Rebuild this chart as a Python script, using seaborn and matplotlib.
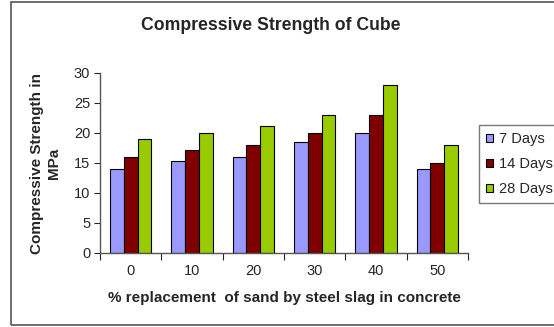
import numpy as np
import pandas as pd
import matplotlib
matplotlib.use("Agg")
import matplotlib.pyplot as plt
import seaborn as sns
from matplotlib.patches import Rectangle

replacement = ["0", "10", "20", "30", "40", "50"]
days_7 = [14, 15.4, 16, 18.5, 20, 14]
days_14 = [16, 17.2, 18, 20, 23, 15]
days_28 = [19, 20, 21.1, 23, 28, 18]
series = ["7 Days", "14 Days", "28 Days"]
colors = ["#9999FF", "#800000", "#99CC00"]

df = pd.DataFrame({
    "repl": replacement * 3,
    "value": days_7 + days_14 + days_28,
    "series": [s for s in series for _ in replacement],
})

sns.set_style("white")
plt.rcParams["font.family"] = ["Liberation Sans", "DejaVu Sans"]

fig = plt.figure(figsize=(5.54, 3.27), dpi=100)
ax = fig.add_axes([100 / 554, 1 - 253 / 327, 368 / 554, 180 / 327])

sns.barplot(data=df, x="repl", y="value", hue="series", palette=colors,
            width=0.67, edgecolor="black", linewidth=0.8, saturation=1,
            ax=ax)

ax.set_ylim(0, 30)
ax.set_xlim(-0.5, 5.5)
ax.set_yticks(range(0, 31, 5))
ax.tick_params(axis="y", labelsize=10.5, length=4, width=0.8, direction="out", left=True, pad=3)
ax.tick_params(axis="x", labelsize=10.5, length=0, pad=8)
ax.set_xticks(np.arange(-0.5, 6, 1), minor=True)
ax.tick_params(axis="x", which="minor", length=5, width=0.8, direction="out", bottom=True)
for side in ["top", "right"]:
    ax.spines[side].set_visible(False)
for side in ["left", "bottom"]:
    ax.spines[side].set_color("#555555")
    ax.spines[side].set_linewidth(1)

ax.set_xlabel("% replacement  of sand by steel slag in concrete",
              fontsize=11, fontweight="bold", labelpad=9)
ax.set_ylabel("Compressive Strength in\nMPa", fontsize=11,
              fontweight="bold", labelpad=9, linespacing=1.3)

fig.text(271 / 554, 1 - 25 / 327, "Compressive Strength of Cube", ha="center",
         va="center", fontsize=12.7, fontweight="bold")

leg = ax.legend(loc="upper left", bbox_to_anchor=(479 / 554, 1 - 125 / 327),
                bbox_transform=fig.transFigure, fontsize=10.5, frameon=True,
                fancybox=False, edgecolor="#555555", handlelength=0.45,
                handleheight=0.45, handletextpad=0.4, borderpad=0.5,
                labelspacing=0.75, borderaxespad=0)
leg.get_frame().set_linewidth(1)

fig.patches.append(Rectangle((11 / 554, 2 / 327), 1.1, 1 - 4 / 327,
                             transform=fig.transFigure, fill=False,
                             edgecolor="#555555", linewidth=1.2))

fig.savefig("out.png", dpi=100)
